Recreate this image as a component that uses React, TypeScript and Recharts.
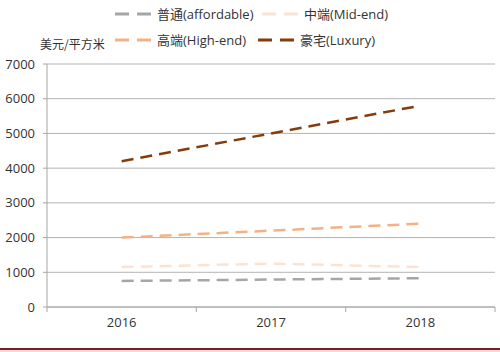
import React from "react";
import {
  LineChart,
  Line,
  XAxis,
  YAxis,
  CartesianGrid,
} from "recharts";

const years = ["2016", "2017", "2018"];
const affordable = [750, 790, 830];
const midEnd = [1150, 1250, 1150];
const highEnd = [2000, 2200, 2400];
const luxury = [4200, 5000, 5800];
const yTicks = [0, 1000, 2000, 3000, 4000, 5000, 6000, 7000];

const series = [
  { key: "affordable", name: "普通(affordable)", color: "#A6A6A6", values: affordable },
  { key: "midEnd", name: "中端(Mid-end)", color: "#FBE3D3", values: midEnd },
  { key: "highEnd", name: "高端(High-end)", color: "#F4B183", values: highEnd },
  { key: "luxury", name: "豪宅(Luxury)", color: "#843C0C", values: luxury },
];

const data = years.map((y, i) => {
  const row: any = { year: y };
  series.forEach((s) => (row[s.key] = s.values[i]));
  return row;
});

const FONT = "'Open Sans', 'Noto Sans CJK SC', sans-serif";
const PLOT_LEFT = 47;
const PLOT_RIGHT = 495;
const BAND = (PLOT_RIGHT - PLOT_LEFT) / years.length;

const legendPos = [
  { left: 115, top: 4 },
  { left: 262, top: 4 },
  { left: 115, top: 30 },
  { left: 258, top: 30 },
];

const LegendBox = () => (
  <div style={{ position: "absolute", left: 0, top: 0, width: 500, height: 56, fontFamily: FONT }}>
    <div
      style={{
        position: "absolute",
        left: 40,
        top: 35,
        fontSize: 12,
        color: "#333",
        fontFamily: "'Noto Sans CJK SC', serif",
      }}
    >
      美元/平方米
    </div>
    {series.map((s, i) => (
      <div
        key={s.key}
        style={{
          position: "absolute",
          left: legendPos[i].left,
          top: legendPos[i].top,
          display: "flex",
          alignItems: "center",
          fontSize: 13,
          color: "#333",
          whiteSpace: "nowrap",
        }}
      >
        <svg width={36} height={6} style={{ marginRight: 6 }}>
          <line x1={0} y1={3} x2={36} y2={3} stroke={s.color} strokeWidth={3} strokeDasharray="14 8" />
        </svg>
        {s.name}
      </div>
    ))}
  </div>
);

const XTick = (props: any) => {
  const { x, y, payload, index } = props;
  const left = x - BAND / 2;
  return (
    <g>
      <line x1={left} y1={y - 8} x2={left} y2={y - 3} stroke="#A6A6A6" />
      {index === years.length - 1 && (
        <line x1={x + BAND / 2} y1={y - 8} x2={x + BAND / 2} y2={y - 3} stroke="#A6A6A6" />
      )}
      <text x={x} y={y + 12} textAnchor="middle" fontSize={13} fill="#333" fontFamily={FONT}>
        {payload.value}
      </text>
    </g>
  );
};

export default function App() {
  return (
    <div style={{ position: "absolute", left: 0, top: 0, width: 500, height: 352, background: "#fff" }}>
      <LineChart
        width={500}
        height={346}
        data={data}
        margin={{ top: 64, right: 5, bottom: 9, left: 0 }}
      >
        <CartesianGrid vertical={false} stroke="#B3B3B3" />
        <XAxis
          dataKey="year"
          stroke="#A6A6A6"
          tickLine={false}
          tick={<XTick />}
          height={30}
          padding={{ left: BAND / 2, right: BAND / 2 }}
        />
        <YAxis
          domain={[0, 7000]}
          ticks={yTicks}
          width={47}
          stroke="#A6A6A6"
          tickSize={4}
          tickMargin={8}
          tick={{ fontSize: 13, fill: "#333", fontFamily: FONT }}
          interval={0}
        />
        {series.map((s) => (
          <Line
            key={s.key}
            dataKey={s.key}
            name={s.name}
            stroke={s.color}
            strokeWidth={2.5}
            strokeDasharray="12 7"
            dot={false}
            type="linear"
            isAnimationActive={false}
          />
        ))}
      </LineChart>
      <LegendBox />
      <div style={{ position: "absolute", left: 0, top: 348, width: 500, height: 2, background: "#7B1E1E" }} />
      <div style={{ position: "absolute", left: 0, top: 350, width: 500, height: 2, background: "#F2D9D9" }} />
    </div>
  );
}
